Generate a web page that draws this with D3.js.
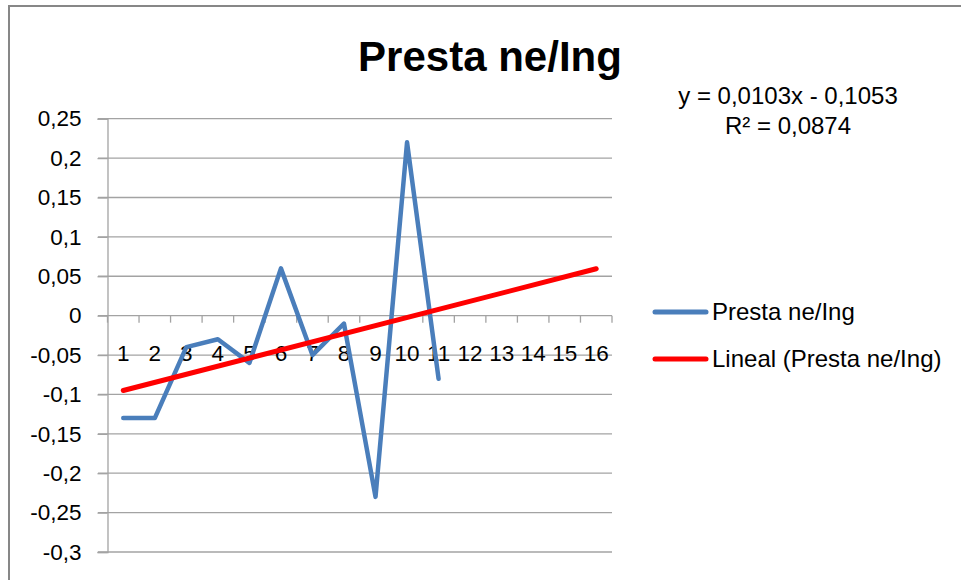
<!DOCTYPE html>
<html>
<head>
<meta charset="utf-8">
<script src="https://cdn.jsdelivr.net/npm/d3@7"></script>
<style>
  body { margin: 0; background: #fff; }
  text { font-family: "Liberation Sans", Arial, sans-serif; fill: #000; }
</style>
</head>
<body>
<div id="chart"></div>
<script>
// data
const categories = ["1","2","3","4","5","6","7","8","9","10","11","12","13","14","15","16"];
const seriesValues = [-0.13, -0.13, -0.04, -0.03, -0.06, 0.06, -0.05, -0.01, -0.23, 0.22, -0.08];
const trendPoints = [{ cat: "1", value: -0.0950 }, { cat: "16", value: 0.0595 }];
const yTicks = [0.25, 0.2, 0.15, 0.1, 0.05, 0, -0.05, -0.1, -0.15, -0.2, -0.25, -0.3];
const seriesName = "Presta ne/Ing";
const trendName = "Lineal (Presta ne/Ing)";
const equationLines = ["y = 0,0103x - 0,1053", "R² = 0,0874"];

const width = 961, height = 580;

const svg = d3.select("#chart")
  .append("svg")
  .attr("width", width)
  .attr("height", height);

// chart frame (only top and left visible)
svg.append("rect")
  .attr("x", 9)
  .attr("y", 6)
  .attr("width", 1000)
  .attr("height", 1000)
  .attr("fill", "none")
  .attr("stroke", "#878787")
  .attr("stroke-width", 2);

const x = d3.scaleBand()
  .domain(categories)
  .range([107.5, 612])
  .padding(0);

const y = d3.scaleLinear()
  .domain([-0.3, 0.25])
  .range([552, 118.7]);

const fmt = d => String(d).replace(".", ",");

// horizontal gridlines
svg.append("g")
  .selectAll("line")
  .data(yTicks)
  .join("line")
  .attr("x1", 98)
  .attr("x2", 612)
  .attr("y1", d => y(d))
  .attr("y2", d => y(d))
  .attr("stroke", "#a3a3a3")
  .attr("stroke-width", 1.3);

// y axis
const yAxis = svg.append("g")
  .attr("transform", "translate(107.5,0)")
  .call(d3.axisLeft(y).tickValues(yTicks).tickFormat(fmt).tickSize(10).tickPadding(16));
yAxis.select(".domain").attr("stroke", "#a3a3a3").attr("stroke-width", 1.3);
yAxis.selectAll(".tick line").attr("stroke", "#a3a3a3").attr("stroke-width", 1.3);
yAxis.selectAll(".tick text")
  .attr("font-size", 22.5)
  .attr("font-family", "Liberation Sans, Arial, sans-serif")
  .attr("fill", "#000");

// x axis at zero: boundary tick marks
const y0 = y(0);
const boundaries = categories.map(c => x(c)).concat([x.range()[1]]);
svg.append("g")
  .selectAll("line")
  .data(boundaries)
  .join("line")
  .attr("x1", d => d)
  .attr("x2", d => d)
  .attr("y1", y0)
  .attr("y2", y0 + 7)
  .attr("stroke", "#a3a3a3")
  .attr("stroke-width", 1.3);

const xAxis = svg.append("g")
  .attr("transform", `translate(0,${y0})`)
  .call(d3.axisBottom(x).tickSize(0).tickPadding(29));
xAxis.select(".domain").remove();
xAxis.selectAll(".tick text")
  .attr("font-size", 22.5)
  .attr("font-family", "Liberation Sans, Arial, sans-serif")
  .attr("fill", "#000");

const cx = c => x(c) + x.bandwidth() / 2;

// data series
const line = d3.line()
  .x((d, i) => cx(categories[i]))
  .y(d => y(d));

svg.append("path")
  .datum(seriesValues)
  .attr("d", line)
  .attr("fill", "none")
  .attr("stroke", "#4a7ebb")
  .attr("stroke-width", 4.5)
  .attr("stroke-linejoin", "round")
  .attr("stroke-linecap", "round");

// linear trendline
svg.append("path")
  .datum(trendPoints)
  .attr("d", d3.line().x(d => cx(d.cat)).y(d => y(d.value)))
  .attr("fill", "none")
  .attr("stroke", "#ff0000")
  .attr("stroke-width", 5)
  .attr("stroke-linecap", "round");

// title
svg.append("text")
  .attr("x", 490)
  .attr("y", 71)
  .attr("text-anchor", "middle")
  .attr("font-size", 42)
  .attr("font-weight", "bold")
  .text(seriesName);

// trendline equation
svg.append("g")
  .selectAll("text")
  .data(equationLines)
  .join("text")
  .attr("x", 788)
  .attr("y", (d, i) => 104 + i * 30)
  .attr("text-anchor", "middle")
  .attr("font-size", 24)
  .text(d => d);

// legend
const legendItems = [
  { name: seriesName, color: "#4a7ebb", y: 312 },
  { name: trendName, color: "#ff0000", y: 359 }
];
const legend = svg.append("g")
  .selectAll("g")
  .data(legendItems)
  .join("g");
legend.append("line")
  .attr("x1", 655)
  .attr("x2", 706)
  .attr("y1", d => d.y)
  .attr("y2", d => d.y)
  .attr("stroke", d => d.color)
  .attr("stroke-width", 5)
  .attr("stroke-linecap", "round");
legend.append("text")
  .attr("x", 712)
  .attr("y", d => d.y)
  .attr("dy", "0.35em")
  .attr("font-size", 24)
  .text(d => d.name);
</script>
</body>
</html>
